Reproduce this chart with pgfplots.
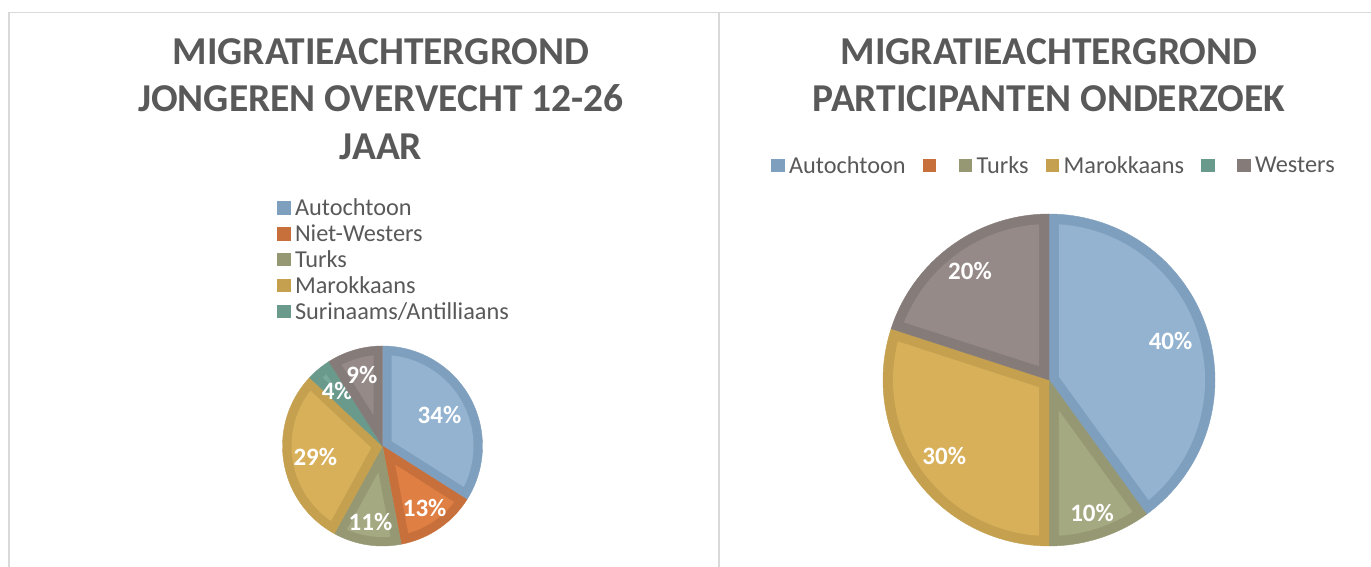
\documentclass[border=0pt]{standalone}
\usepackage{pgfplots}
\pgfplotsset{compat=1.18}
\usepackage{fontspec}
\setmainfont{Carlito}

\definecolor{txtgray}{HTML}{595959}
\definecolor{framecol}{HTML}{D9D9D9}
\definecolor{autoL}{HTML}{93B3D0}\definecolor{autoD}{HTML}{7F9FBE}
\definecolor{nwL}{HTML}{E07F43}\definecolor{nwD}{HTML}{C8703C}
\definecolor{trL}{HTML}{A5A981}\definecolor{trD}{HTML}{959872}
\definecolor{mrL}{HTML}{D8B05A}\definecolor{mrD}{HTML}{C4A04F}
\definecolor{srL}{HTML}{78A99B}\definecolor{srD}{HTML}{6A9A8C}
\definecolor{wsL}{HTML}{958A88}\definecolor{wsD}{HTML}{857B79}

\tikzset{labelfont/.style={font=\fontsize{25}{29}\selectfont\bfseries, text=white, inner sep=0pt},
  titlefont/.style={font=\fontsize{39.5}{47}\selectfont\bfseries, text=txtgray, anchor=base, inner sep=0pt}}

% #1 start (%), #2 share (%), #3 light, #4 dark, #5 border width (of radius), #6 label radius, #7 label
\newcommand{\pieslice}[7]{%
  \pgfmathsetmacro\pA{90-3.6*(#1+#2)}%
  \pgfmathsetmacro\pB{90-3.6*(#1)}%
  \pgfmathsetmacro\pM{90-3.6*(#1+0.5*#2)}%
  \pgfmathsetmacro\pR{1-#5}%
  \pgfmathsetmacro\pApex{#5/sin(1.8*#2)}%
  \pgfmathsetmacro\pD{asin(#5/\pR)}%
  \pgfmathsetmacro\pIA{\pA+\pD}%
  \pgfmathsetmacro\pIB{\pB-\pD}%
  \pgfmathsetmacro\pX{\pApex*cos(\pM)}%
  \pgfmathsetmacro\pY{\pApex*sin(\pM)}%
  \pgfmathsetmacro\pLX{#6*cos(\pM)}%
  \pgfmathsetmacro\pLY{#6*sin(\pM)}%
  \edef\doplot{\noexpand\addplot[fill=#4, draw=#4, line width=0.4pt, domain=\pA:\pB, samples=100, forget plot] ({cos(x)},{sin(x)}) -- (axis cs:0,0) -- cycle;}\doplot
  \ifdim\pApex pt<\pR pt
    \edef\doplot{\noexpand\addplot[fill=#3, draw=none, domain=\pIA:\pIB, samples=100, forget plot] ({\pR*cos(x)},{\pR*sin(x)}) -- (axis cs:\pX,\pY) -- cycle;}\doplot
  \fi
  \edef\doplot{\noexpand\node[labelfont] at (axis cs:\pLX,\pLY) {#7};}\doplot
}

\pgfplotsset{
  pieaxis/.style={hide axis, scale only axis, clip=false, xmin=-1, xmax=1, ymin=-1, ymax=1, anchor=center},
  pielegend/.style={
    legend image code/.code={\fill[##1] (0pt,-6.75pt) rectangle (13.5pt,6.75pt);},
    legend cell align=left,
    legend style={draw=none, fill=none, inner sep=0pt, outer sep=0pt,
      font=\fontsize{24.3}{27}\selectfont, text=txtgray, row sep=7.6pt,
      nodes={inner sep=0pt},
      /tikz/every odd column/.append style={column sep=4.5pt},
      /tikz/every even column/.append style={column sep=17pt}},
  }
}

\begin{document}
\begin{tikzpicture}
\path[use as bounding box] (0,0) rectangle (1371pt,567pt);
% panel frame
\draw[framecol, line width=1.5pt] (9pt,0) -- (9pt,554.5pt) -- (1371pt,554.5pt);
\draw[framecol, line width=1.5pt] (719pt,0) -- (719pt,554.5pt);

% titles
\node[titlefont] at (381pt,502.5pt) {MIGRATIEACHTERGROND};
\node[titlefont] at (381pt,455pt) {JONGEREN OVERVECHT 12-26};
\node[titlefont] at (381pt,407.5pt) {JAAR};
\node[titlefont] at (1049pt,502.5pt) {MIGRATIEACHTERGROND};
\node[titlefont] at (1049pt,455pt) {PARTICIPANTEN ONDERZOEK};

% left pie
\begin{axis}[pieaxis, pielegend, at={(382.5pt,121pt)}, width=200pt, height=200pt,
  legend style={at={(-0.0275,1.7365)}, anchor=north west}]
\addlegendimage{fill=autoD, draw=none}
\addlegendimage{fill=nwD, draw=none}
\addlegendimage{fill=trD, draw=none}
\addlegendimage{fill=mrD, draw=none}
\addlegendimage{fill=srD, draw=none}
\legend{Autochtoon, Niet-Westers, Turks, Marokkaans, Surinaams/Antilliaans}
\pieslice{0}{34}{autoL}{autoD}{0.09}{0.65}{34\%}
\pieslice{34}{13}{nwL}{nwD}{0.09}{0.75}{13\%}
\pieslice{47}{11}{trL}{trD}{0.09}{0.77}{11\%}
\pieslice{58}{29}{mrL}{mrD}{0.09}{0.68}{29\%}
\pieslice{87}{4}{srL}{srD}{0.09}{0.71}{4\%}
\pieslice{91}{9}{wsL}{wsD}{0.09}{0.74}{9\%}
\end{axis}

% right pie
\begin{axis}[pieaxis, pielegend, at={(1049pt,187pt)}, width=332pt, height=332pt,
  legend columns=6,
  legend style={at={(-0.3373,1.1741)}, anchor=north west}]
\addlegendimage{fill=autoD, draw=none}
\addlegendimage{fill=nwD, draw=none}
\addlegendimage{fill=trD, draw=none}
\addlegendimage{fill=mrD, draw=none}
\addlegendimage{fill=srD, draw=none}
\addlegendimage{fill=wsD, draw=none}
\legend{Autochtoon, \mbox{}, Turks, Marokkaans, \mbox{}, Westers}
\pieslice{0}{40}{autoL}{autoD}{0.06}{0.77}{40\%}
\pieslice{40}{10}{trL}{trD}{0.06}{0.84}{10\%}
\pieslice{50}{30}{mrL}{mrD}{0.06}{0.78}{30\%}
\pieslice{80}{20}{wsL}{wsD}{0.06}{0.81}{20\%}
\end{axis}
\end{tikzpicture}
\end{document}
